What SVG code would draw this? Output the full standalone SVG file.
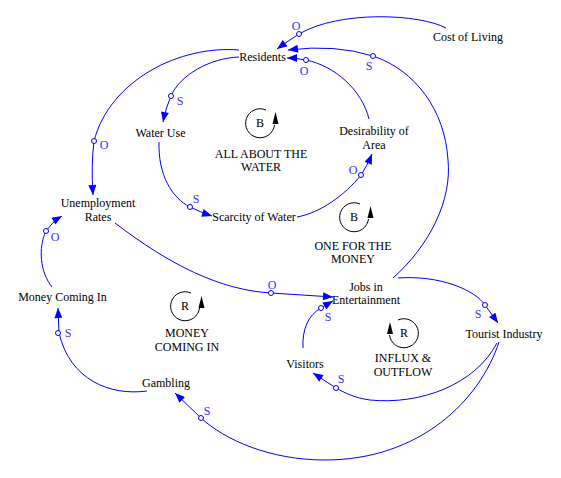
<svg xmlns="http://www.w3.org/2000/svg" width="561" height="478" viewBox="0 0 561 478">
<defs>
<marker id="ah" viewBox="0 0 10 8" refX="10" refY="4" markerWidth="11" markerHeight="8" markerUnits="userSpaceOnUse" orient="auto">
<path d="M0,0 L10,4 L0,8 Z" fill="#0000FF"/>
</marker>
</defs>
<style>
.lnk{fill:none;stroke:#0000FF;stroke-width:1;marker-end:url(#ah)}
.dot{fill:#fff;stroke:#0000FF;stroke-width:1}
.pol{font-family:"Liberation Serif",serif;font-size:12px;fill:#3030FF;text-anchor:middle}
.nd{font-family:"Liberation Serif",serif;font-size:12px;fill:#000;text-anchor:middle}
.lp{fill:none;stroke:#000;stroke-width:1}
.la{fill:#000}
</style>
<rect width="561" height="478" fill="#fff"/>
<g id="connectors">
<path class="lnk" d="M446,28 C420,14 340,10 299,34 Q288,41 277,49"/>
<circle class="dot" cx="299" cy="34" r="2.5"/><text class="pol" x="296" y="30">O</text>
<path class="lnk" d="M393,278 C430,245 452,200 448,160 C445,110 415,70 373,56 Q335,44 288,50"/>
<circle class="dot" cx="373" cy="56" r="2.5"/><text class="pol" x="369" y="70">S</text>
<path class="lnk" d="M369,119 C362,90 335,66 306,60 Q296,58 287,58"/>
<circle class="dot" cx="306" cy="60" r="2.5"/><text class="pol" x="304" y="75">O</text>
<path class="lnk" d="M239,57 C210,58 180,75 171,96 Q166,107 163,122"/>
<circle class="dot" cx="171" cy="96" r="2.5"/><text class="pol" x="180" y="105">S</text>
<path class="lnk" d="M239,50 C180,45 110,80 94,141 Q91,165 93,195"/>
<circle class="dot" cx="94" cy="141" r="2.5"/><text class="pol" x="104" y="149">O</text>
<path class="lnk" d="M159,142 C158,175 172,198 190,207 Q200,212 212,216"/>
<circle class="dot" cx="190" cy="207" r="2.5"/><text class="pol" x="196" y="203">S</text>
<path class="lnk" d="M297,217 C320,213 345,195 361,175 Q367,166 372,154"/>
<circle class="dot" cx="361" cy="175" r="2.5"/><text class="pol" x="353" y="174">O</text>
<path class="lnk" d="M115,223 C170,265 220,290 271,293 L333,297"/>
<circle class="dot" cx="271" cy="293" r="2.5"/><text class="pol" x="272" y="289">O</text>
<path class="lnk" d="M52,287 C40,272 38,248 46,231 Q52,222 62,216"/>
<circle class="dot" cx="46" cy="231" r="2.5"/><text class="pol" x="55" y="241">O</text>
<path class="lnk" d="M147,391 C110,396 70,380 59,333 L58,308"/>
<circle class="dot" cx="58" cy="333" r="2.5"/><text class="pol" x="68" y="337">S</text>
<path class="lnk" d="M499,342 C480,400 420,460 325,460 C270,460 225,440 201,418 L175,393"/>
<circle class="dot" cx="201" cy="418" r="2.5"/><text class="pol" x="207" y="415">S</text>
<path class="lnk" d="M497,343 C475,385 420,405 370,400 C355,398 345,393 336,388 L313,373"/>
<circle class="dot" cx="336" cy="388" r="2.5"/><text class="pol" x="341" y="383">S</text>
<path class="lnk" d="M303,348 C302,330 308,315 321,308 L333,301"/>
<circle class="dot" cx="321" cy="308" r="2.5"/><text class="pol" x="328" y="321">S</text>
<path class="lnk" d="M398,278 C440,275 475,290 485,305 L498,323"/>
<circle class="dot" cx="485" cy="305" r="2.5"/><text class="pol" x="478" y="318">S</text>
</g>
<g id="cost-of-living"><text class="nd" x="468" y="41">Cost of Living</text></g>
<g id="residents"><text class="nd" x="262.5" y="61">Residents</text></g>
<g id="water-use"><text class="nd" x="160.5" y="137">Water Use</text></g>
<g id="desirability"><text class="nd" x="374" y="135">Desirability of</text><text class="nd" x="374" y="149">Area</text></g>
<g id="unemployment"><text class="nd" x="98" y="207">Unemployment</text><text class="nd" x="98" y="221">Rates</text></g>
<g id="scarcity"><text class="nd" x="254" y="221">Scarcity of Water</text></g>
<g id="jobs"><text class="nd" x="366" y="291">Jobs in</text><text class="nd" x="366" y="304">Entertainment</text></g>
<g id="money-coming-in"><text class="nd" x="62.5" y="301">Money Coming In</text></g>
<g id="tourist-industry"><text class="nd" x="504" y="338">Tourist Industry</text></g>
<g id="visitors"><text class="nd" x="305" y="368">Visitors</text></g>
<g id="gambling"><text class="nd" x="166" y="387">Gambling</text></g>
<g id="loop-water">
<path class="lp" d="M266,110 A14.5 14.5 0 1 0 274.5,125"/>
<path class="la" d="M275.5,112 L272.5,124 L278.5,124 Z"/>
<text class="nd" x="260" y="127">B</text>
<text class="nd" x="261" y="158">ALL ABOUT THE</text>
<text class="nd" x="261" y="171">WATER</text>
</g>
<g id="loop-money">
<path class="lp" d="M360,204 A14.5 14.5 0 1 0 368.5,219"/>
<path class="la" d="M370.5,206 L367.5,218 L373.5,218 Z"/>
<text class="nd" x="354" y="221">B</text>
<text class="nd" x="353" y="250">ONE FOR THE</text>
<text class="nd" x="353" y="263">MONEY</text>
</g>
<g id="loop-money-coming">
<path class="lp" d="M191,293 A14.5 14.5 0 1 0 199.5,308"/>
<path class="la" d="M201.5,296 L198.5,308 L204.5,308 Z"/>
<text class="nd" x="185" y="310">R</text>
<text class="nd" x="187" y="337">MONEY</text>
<text class="nd" x="187" y="351">COMING IN</text>
</g>
<g id="loop-influx">
<path class="lp" d="M398,320 A14.5 14.5 0 1 1 389.5,335"/>
<path class="la" d="M390,322 L387,334 L393,334 Z"/>
<text class="nd" x="404" y="337">R</text>
<text class="nd" x="403" y="362">INFLUX &amp;</text>
<text class="nd" x="403" y="376">OUTFLOW</text>
</g>
</svg>
